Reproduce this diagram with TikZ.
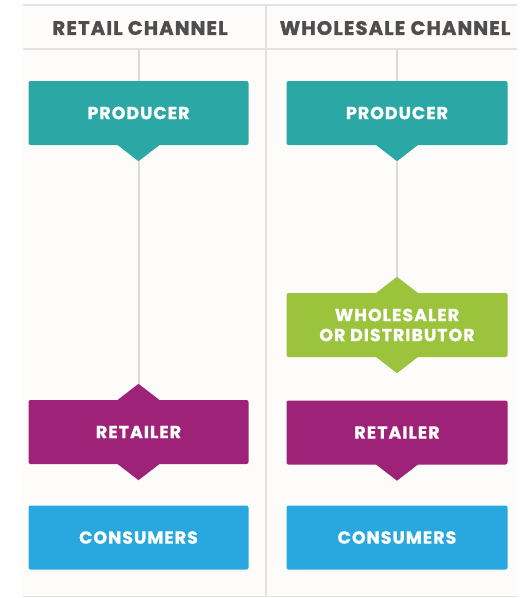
\documentclass[tikz,border=0pt]{standalone}
\usepackage{fontspec}
\setmainfont{Poppins}
\newfontfamily\labelfont{Poppins}[LetterSpace=5.5, BoldFeatures={FakeBold=0.8}]
\newfontfamily\headfont{Poppins}[LetterSpace=6, BoldFeatures={FakeBold=1.6}]
\usetikzlibrary{calc}
\definecolor{teal1}{HTML}{2BA8A6}
\definecolor{green1}{HTML}{9BC33C}
\definecolor{plum1}{HTML}{9E2378}
\definecolor{sky1}{HTML}{29A7DF}
\definecolor{rule1}{HTML}{E2E2E2}
\definecolor{link1}{HTML}{DADADA}
\definecolor{head1}{HTML}{4E4E4E}
\definecolor{panel1}{HTML}{FDFCFA}
\begin{document}
\begin{tikzpicture}[x=1pt,y=-1pt,
  box/.style={rectangle, rounded corners=2pt, minimum height=64pt,
    inner sep=0pt, text=white, font=\labelfont\fontsize{17.5}{20}\selectfont\bfseries,
    align=center},
  lbox/.style={box, minimum width=220pt},
  rbox/.style={box, minimum width=221pt},
  head/.style={text=head1, font=\headfont\fontsize{19.5}{22}\selectfont\bfseries},
  frame/.style={draw=rule1, line width=1.6pt},
  link/.style={draw=link1, line width=2pt}]
\useasboundingbox (0,0) rectangle (530,598);
% panel and grid lines
\fill[panel1] (23,5) rectangle (517,597);
\draw[frame] (23,5) -- (517,5);
\draw[frame] (23,49) -- (517,49);
\draw[frame] (23,596.5) -- (517,596.5);
\draw[frame] (266,5) -- (266,597);
% column headings
\node[head] (hL) at (140,28) {RETAIL CHANNEL};
\node[head] (hR) at (395,28) {WHOLESALE CHANNEL};
\coordinate (tL) at (138.5,49);
\coordinate (tR) at (397,49);
% retail channel
\node[lbox, fill=teal1] (pL) at (138.5,113) {PRODUCER};
\node[lbox, fill=plum1] (rL) at (138.5,432) {RETAILER};
\node[lbox, fill=sky1]  (cL) at (138.5,537.5) {CONSUMERS};
% wholesale channel
\node[rbox, fill=teal1]  (pR) at (397,113) {PRODUCER};
\node[rbox, fill=green1] (wR) at (397,325) {WHOLESALER\\OR DISTRIBUTOR};
\node[rbox, fill=plum1]  (rR) at (397,432.5) {RETAILER};
\node[rbox, fill=sky1]   (cR) at (397,537.5) {CONSUMERS};
% pointer tips
\newcommand{\tipdown}[2]{%
  \fill[#2] ([xshift=-22pt,yshift=1pt]#1.south) -- ([yshift=-16pt]#1.south)
    -- ([xshift=22pt,yshift=1pt]#1.south) -- cycle;}
\newcommand{\tipup}[2]{%
  \fill[#2] ([xshift=-22pt,yshift=-1pt]#1.north) -- ([yshift=16pt]#1.north)
    -- ([xshift=22pt,yshift=-1pt]#1.north) -- cycle;}
\tipdown{pL}{teal1}
\tipdown{pR}{teal1}
\tipup{rL}{plum1}
\tipdown{rL}{plum1}
\tipup{wR}{green1}
\tipdown{wR}{green1}
\tipdown{rR}{plum1}
\coordinate (pLb) at ([yshift=-16pt]pL.south);
\coordinate (pRb) at ([yshift=-16pt]pR.south);
\coordinate (rLt) at ([yshift=16pt]rL.north);
\coordinate (wRt) at ([yshift=16pt]wR.north);
% connectors
\draw[link] (tL) -- (pL.north);
\draw[link] (tR) -- (pR.north);
\draw[link] (pLb) -- (rLt);
\draw[link] (pRb) -- (wRt);
\end{tikzpicture}
\end{document}
